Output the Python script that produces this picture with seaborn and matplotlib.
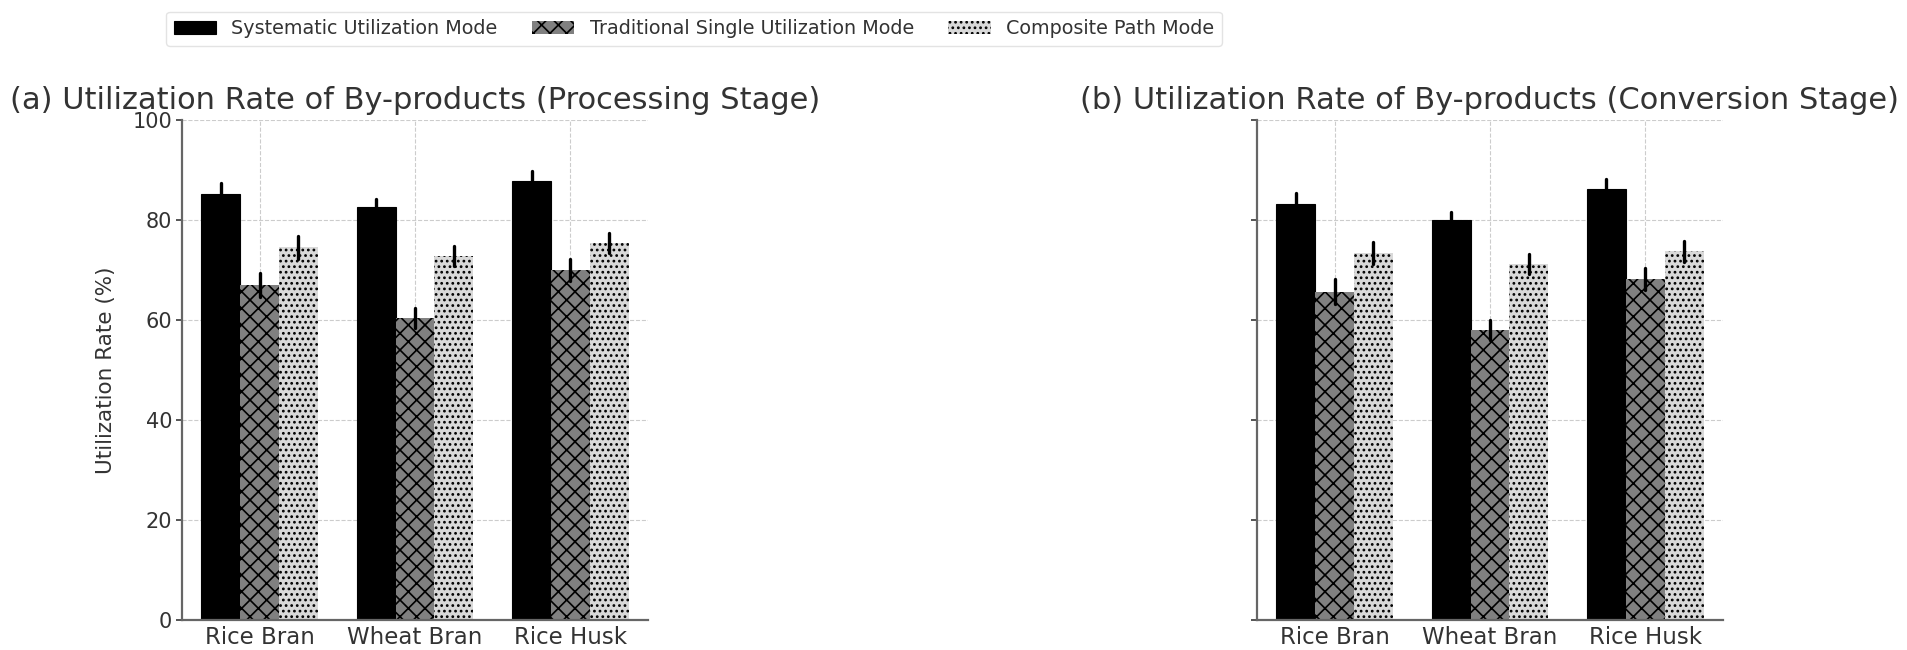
import numpy as np
import pandas as pd
import matplotlib
matplotlib.use("Agg")
import matplotlib.pyplot as plt
import seaborn as sns
from matplotlib.patches import Patch

# данные
categories = ["Rice Bran", "Wheat Bran", "Rice Husk"]
modes = ["Systematic Utilization Mode", "Traditional Single Utilization Mode", "Composite Path Mode"]

proc_systematic = [85.2, 82.6, 87.9]
proc_traditional = [67.0, 60.5, 70.1]
proc_composite = [74.6, 72.8, 75.4]
proc_err_systematic = [2.2, 1.6, 2.0]
proc_err_traditional = [2.4, 2.0, 2.2]
proc_err_composite = [2.3, 2.0, 2.1]

conv_systematic = [83.3, 80.1, 86.3]
conv_traditional = [65.7, 58.1, 68.2]
conv_composite = [73.4, 71.2, 73.8]
conv_err_systematic = [2.2, 1.6, 2.0]
conv_err_traditional = [2.4, 2.0, 2.2]
conv_err_composite = [2.3, 2.0, 2.1]

titles = ["(a) Utilization Rate of By-products (Processing Stage)",
          "(b) Utilization Rate of By-products (Conversion Stage)"]

face_colors = ["black", "#808080", "#d9d9d9"]
hatches = ["", "xx", "..."]


def make_frame(vals, errs):
    # две строки на столбец: value-err и value+err -> среднее = value, min/max = интервал
    rows = []
    for mode, v_list, e_list in zip(modes, vals, errs):
        for cat, v, e in zip(categories, v_list, e_list):
            rows.append({"category": cat, "mode": mode, "value": v - e})
            rows.append({"category": cat, "mode": mode, "value": v + e})
    return pd.DataFrame(rows)


frames = [
    make_frame([proc_systematic, proc_traditional, proc_composite],
               [proc_err_systematic, proc_err_traditional, proc_err_composite]),
    make_frame([conv_systematic, conv_traditional, conv_composite],
               [conv_err_systematic, conv_err_traditional, conv_err_composite]),
]

sns.set_style("white")
plt.rcParams["hatch.linewidth"] = 1.2
plt.rcParams["font.family"] = ["DejaVu Sans"]

W, H = 1908, 650
fig = plt.figure(figsize=(W / 100, H / 100), dpi=100)
ax_boxes = [(182, 648), (1257, 1723)]
axes = []
for x0, x1 in ax_boxes:
    axes.append(fig.add_axes([x0 / W, (H - 620) / H, (x1 - x0) / W, 500 / H]))

for i, ax in enumerate(axes):
    sns.barplot(data=frames[i], x="category", y="value", hue="mode",
                hue_order=modes, order=categories, ax=ax,
                palette=face_colors, width=0.75, saturation=1,
                errorbar=lambda x: (x.min(), x.max()),
                err_kws={"color": "black", "linewidth": 2.4},
                edgecolor="black", linewidth=0.8, legend=False)
    # штриховка по сериям
    n = len(categories)
    for j, bar in enumerate(ax.patches):
        k = j // n
        bar.set_hatch(hatches[k])
        bar.set_facecolor(face_colors[k])
        bar.set_edgecolor("black")
        if k > 0:
            bar.set_linewidth(0)
    ax.set_ylim(0, 100)
    ax.set_yticks([0, 20, 40, 60, 80, 100])
    ax.set_xlabel("")
    ax.grid(True, linestyle="--", color="#cccccc", linewidth=0.8)
    ax.set_axisbelow(True)
    for s in ["top", "right"]:
        ax.spines[s].set_visible(False)
    for s in ["left", "bottom"]:
        ax.spines[s].set_color("#666666")
        ax.spines[s].set_linewidth(1.6)
    ax.tick_params(axis="x", length=0, labelsize=16.5, labelcolor="#333333", pad=4)
    ax.tick_params(axis="y", left=True, length=4, width=1.4, color="#555555",
                   labelsize=15, labelcolor="#333333", pad=3)
    ax.set_title(titles[i], fontsize=22, color="#333333", pad=8)
    if i == 0:
        ax.set_ylabel("Utilization Rate (%)", fontsize=15.5, color="#333333", labelpad=12)
    else:
        ax.set_ylabel("")
        ax.set_yticklabels([])

handles = [Patch(facecolor=c, edgecolor="black", hatch=h, linewidth=0 if h else 0.8)
           for c, h in zip(face_colors, hatches)]
fig.legend(handles, modes, loc="upper center", bbox_to_anchor=(694 / W, 1 - 2 / H),
           ncol=3, fontsize=13.8, frameon=True, fancybox=True, edgecolor="#dddddd",
           labelcolor="#333333", handlelength=2.2, columnspacing=1.8)

fig.savefig("out.png", dpi=100)
